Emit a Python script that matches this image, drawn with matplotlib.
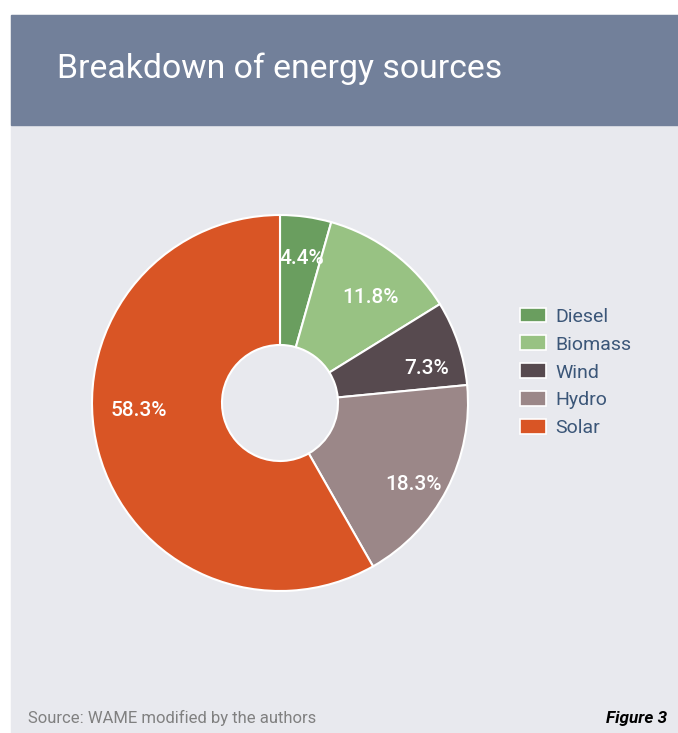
import numpy as np
import matplotlib.pyplot as plt
from matplotlib.patches import Rectangle

# data
sources = ['Diesel', 'Biomass', 'Wind', 'Hydro', 'Solar']
shares = [4.4, 11.8, 7.3, 18.3, 58.3]
colors = ['#6a9e5f', '#98c283', '#574a4f', '#9b8788', '#d95525']
title = 'Breakdown of energy sources'
source_note = 'Source: WAME modified by the authors'
fig_label = 'Figure 3'

# label placement tweaks: radial distance and angle shift (deg) from wedge middle
label_dist = [0.78, 0.74, 0.80, 0.83, 0.75]
label_shift = [-0.7, -3.5, -5.5, -4.0, -11.8]

W, H = 678, 733
plt.rcParams['font.family'] = ['Roboto', 'DejaVu Sans']
fig = plt.figure(figsize=(W / 100, H / 100), dpi=100)
fig.patch.set_facecolor('white')

# panel and header band (pixel coords -> figure fraction)
def px(x, y):
    return x / W, 1 - y / H

fig.patches.append(Rectangle(px(11, 733), (W - 11) / W, (733 - 15) / H,
                             transform=fig.transFigure, color='#e8e9ee', zorder=-2))
fig.patches.append(Rectangle(px(11, 125), (W - 11) / W, (125 - 15) / H,
                             transform=fig.transFigure, color='#72809a', zorder=-1))

fig.text(*px(57, 69), title, color='white', fontsize=24.3, va='center', ha='left')
fig.text(*px(28, 718), source_note, color='#808080', fontsize=12, va='center', ha='left')
fig.text(*px(667, 718), fig_label, color='black', fontsize=12.3, va='center', ha='right',
         fontweight='bold', fontstyle='italic')

# pie
cx, cy, r = 280, 403, 188
ax = fig.add_axes([(cx - r) / W, (H - cy - r) / H, 2 * r / W, 2 * r / H])
ax.set_facecolor('none')
wedges, texts = ax.pie(
    shares, colors=colors, startangle=90, counterclock=False, radius=1,
    wedgeprops=dict(width=1 - 58 / 188, edgecolor='white', linewidth=1.5))
for w, v, d, s in zip(wedges, shares, label_dist, label_shift):
    ang = np.deg2rad((w.theta1 + w.theta2) / 2 + s)
    ax.text(d * np.cos(ang), d * np.sin(ang), f'{v}%', color='white',
            fontsize=15, fontweight='medium', ha='center', va='center')
ax.set_xlim(-1, 1)
ax.set_ylim(-1, 1)
ax.axis('off')

leg = fig.legend(wedges, sources, loc='upper left', bbox_to_anchor=px(502, 290),
                 frameon=False, fontsize=14, handlelength=1.35, handleheight=0.8,
                 labelspacing=0.5, handletextpad=0.5, labelcolor='#3b5678')
for h in leg.legend_handles:
    h.set_edgecolor('white')
    h.set_linewidth(1.2)

fig.savefig('out.png', dpi=100, facecolor=fig.get_facecolor())
